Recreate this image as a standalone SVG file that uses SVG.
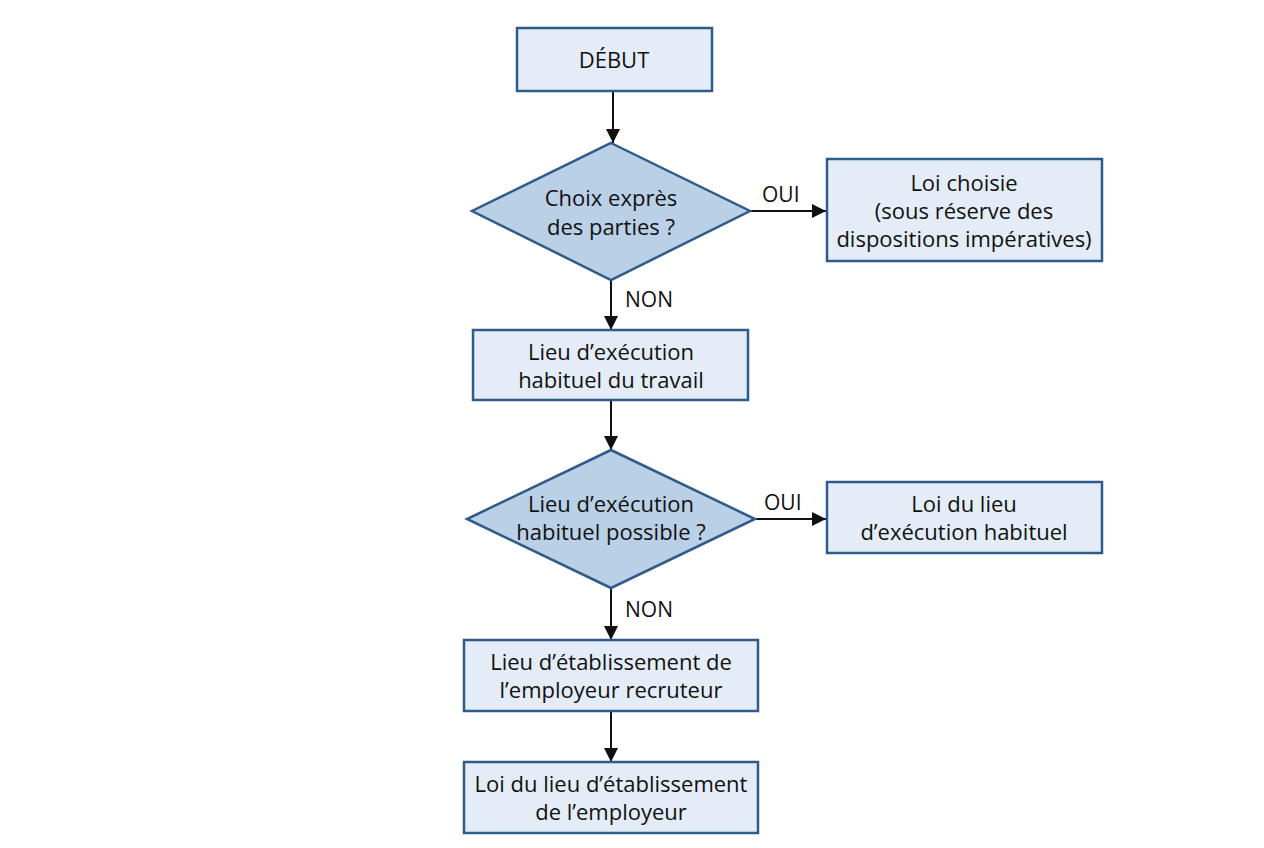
<svg xmlns="http://www.w3.org/2000/svg" width="1264" height="848" viewBox="0 0 1264 848">
<defs>
<marker id="ah" viewBox="0 0 10 10" refX="10" refY="5" markerWidth="14" markerHeight="14" markerUnits="userSpaceOnUse" orient="auto"><path d="M0,0 L10,5 L0,10 z" fill="#111"/></marker>
<style>
.box{fill:#e4edf7;stroke:#2f5b8a;stroke-width:2.5}
.dia{fill:#b9d0e7;stroke:#2f5b8a;stroke-width:2.5}
.t{font-family:"Open Sans","Noto Sans",sans-serif;font-size:22px;fill:#111;text-anchor:middle}
.lbl{font-family:"Open Sans","Noto Sans",sans-serif;font-size:21px;fill:#111}
.c{stroke:#111;stroke-width:2;fill:none;marker-end:url(#ah)}
</style>
</defs>
<rect width="1264" height="848" fill="#fff"/>
<g id="connectors">
<line class="c" x1="613" y1="91" x2="613" y2="143"/>
<line class="c" x1="750" y1="211" x2="826" y2="211"/>
<line class="c" x1="611" y1="280" x2="611" y2="330"/>
<line class="c" x1="611" y1="400" x2="611" y2="450"/>
<line class="c" x1="755" y1="519" x2="826" y2="519"/>
<line class="c" x1="611" y1="588" x2="611" y2="640"/>
<line class="c" x1="611" y1="711" x2="611" y2="762"/>
<text class="lbl" x="762" y="202">OUI</text>
<text class="lbl" x="625" y="307">NON</text>
<text class="lbl" x="764" y="510">OUI</text>
<text class="lbl" x="625" y="617">NON</text>
</g>
<g id="debut">
<rect class="box" x="517" y="28" width="195" height="63"/>
<text class="t" x="614" y="68">DÉBUT</text>
</g>
<g id="choix">
<polygon class="dia" points="611,143 750,211 611,280 472,211"/>
<text class="t" x="611" y="206">Choix exprès</text>
<text class="t" x="611" y="235">des parties ?</text>
</g>
<g id="loi-choisie">
<rect class="box" x="827" y="159" width="275" height="102"/>
<text class="t" x="964" y="191">Loi choisie</text>
<text class="t" x="964" y="219">(sous réserve des</text>
<text class="t" x="964" y="247">dispositions impératives)</text>
</g>
<g id="lieu-execution">
<rect class="box" x="473" y="330" width="275" height="70"/>
<text class="t" x="611" y="360">Lieu d’exécution</text>
<text class="t" x="611" y="388">habituel du travail</text>
</g>
<g id="possible">
<polygon class="dia" points="611,450 755,519 611,588 467,519"/>
<text class="t" x="611" y="512">Lieu d’exécution</text>
<text class="t" x="611" y="540">habituel possible ?</text>
</g>
<g id="loi-execution">
<rect class="box" x="827" y="482" width="275" height="71"/>
<text class="t" x="964" y="512">Loi du lieu</text>
<text class="t" x="964" y="540">d’exécution habituel</text>
</g>
<g id="etablissement">
<rect class="box" x="464" y="640" width="294" height="71"/>
<text class="t" x="611" y="670">Lieu d’établissement de</text>
<text class="t" x="611" y="698">l’employeur recruteur</text>
</g>
<g id="loi-etablissement">
<rect class="box" x="464" y="762" width="294" height="71"/>
<text class="t" x="611" y="792">Loi du lieu d’établissement</text>
<text class="t" x="611" y="820">de l’employeur</text>
</g>
</svg>
